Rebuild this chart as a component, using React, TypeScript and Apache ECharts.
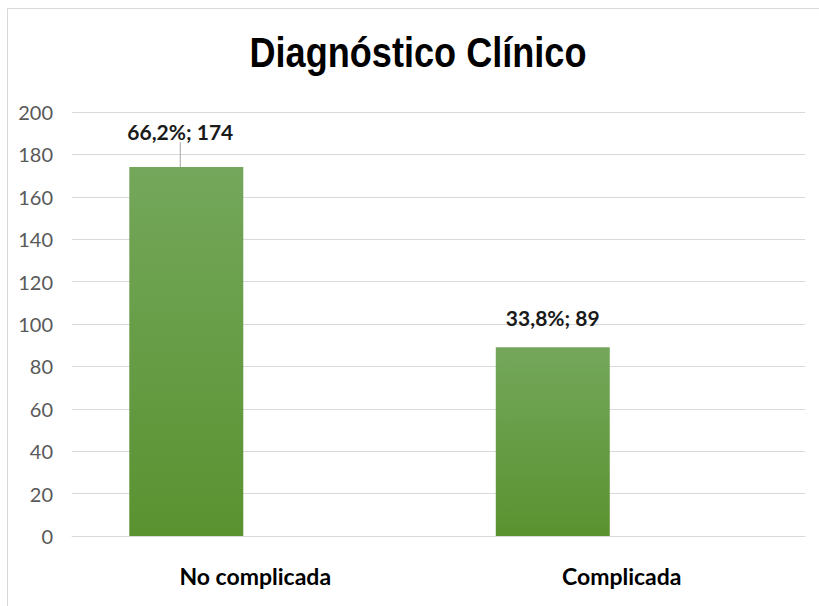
import React, { useEffect, useRef } from "react";
import * as echarts from "echarts";

const titleText = "Diagnóstico Clínico";
const categories = ["No complicada", "Complicada"];
const counts = [174, 89];
const percents = ["66,2%", "33,8%"];
const yTicks = { min: 0, max: 200, interval: 20 };

export default function App() {
  const ref = useRef<HTMLDivElement>(null);
  useEffect(() => {
    if (!ref.current) return;
    const chart = echarts.init(ref.current, null, { renderer: "svg" });
    chart.setOption({
      animation: false,
      backgroundColor: "#ffffff",
      graphic: [
        {
          type: "rect",
          shape: { x: 7.5, y: 8.5, width: 900, height: 700 },
          style: { fill: "none", stroke: "#d9d9d9", lineWidth: 1 },
          silent: true,
        },
        {
          type: "text",
          x: 418,
          y: 52,
          scaleX: 0.84,
          silent: true,
          style: {
            text: titleText,
            x: 0,
            y: 0,
            align: "center",
            verticalAlign: "middle",
            font: "bold 43px 'Liberation Sans', Arial, sans-serif",
            fill: "#000000",
          },
        },
      ],
      grid: { left: 72, right: 14, top: 112, bottom: 70 },
      xAxis: {
        type: "category",
        data: categories,
        axisLine: { show: true, lineStyle: { color: "#d9d9d9", width: 1 } },
        axisTick: { show: false },
        axisLabel: {
          margin: 28,
          fontFamily: "Lato, 'Open Sans', sans-serif",
          fontWeight: "bold",
          fontSize: 23,
          color: "#000000",
        },
      },
      yAxis: {
        type: "value",
        min: yTicks.min,
        max: yTicks.max,
        interval: yTicks.interval,
        axisLine: { show: false },
        axisTick: { show: false },
        splitLine: { show: true, lineStyle: { color: "#d9d9d9", width: 1 } },
        axisLabel: {
          margin: 19,
          fontFamily: "Lato, 'Open Sans', sans-serif",
          fontSize: 20,
          color: "#595959",
        },
      },
      series: [
        {
          type: "bar",
          name: "Casos",
          data: counts.map((v, i) => ({
            value: v,
            labelLine: { show: i === 0 },
          })),
          barWidth: 114,
          barGap: "21%",
          itemStyle: {
            color: new echarts.graphic.LinearGradient(0, 0, 0, 1, [
              { offset: 0, color: "#74a75b" },
              { offset: 1, color: "#5a9230" },
            ]),
          },
          label: {
            show: true,
            position: "top",
            distance: 19,
            formatter: (p: any) => `${percents[p.dataIndex]}; ${p.value}`,
            fontFamily: "Lato, 'Open Sans', sans-serif",
            fontWeight: "bold",
            fontSize: 21,
            color: "#1a1a1a",
          },
          labelLine: { show: true, lineStyle: { color: "#a6a6a6", width: 1 } },
          labelLayout: (params: any) =>
            params.dataIndex === 0 ? { dx: -6, dy: -6 } : {},
        },
        {
          type: "bar",
          name: "vacío",
          data: [null, null],
          barWidth: 114,
          barGap: "21%",
        },
      ],
    });
    return () => chart.dispose();
  }, []);
  return (
    <div
      ref={ref}
      style={{ position: "fixed", left: 0, top: 0, width: 819, height: 606 }}
    />
  );
}
